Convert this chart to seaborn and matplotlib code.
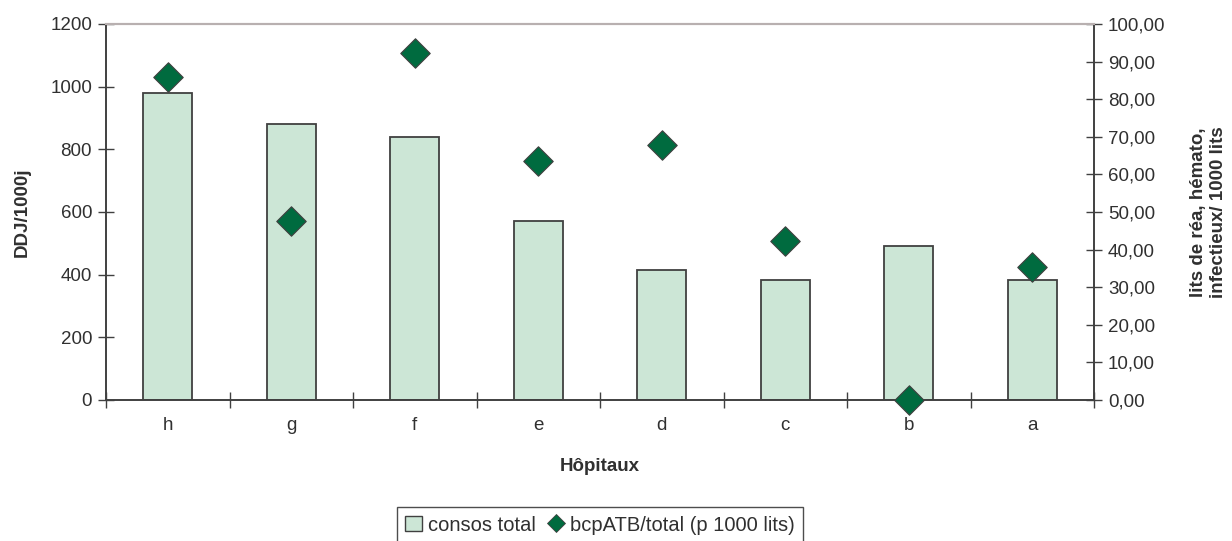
import matplotlib
matplotlib.use("Agg")
import matplotlib.pyplot as plt
from matplotlib.lines import Line2D
from matplotlib.patches import Patch
from matplotlib.ticker import FuncFormatter, MultipleLocator
import pandas as pd
import seaborn as sns

# Data
hopitaux = ["h", "g", "f", "e", "d", "c", "b", "a"]
consos_total = [979, 880, 839, 570, 414, 384, 491, 384]
bcp_atb = [85.9, 47.5, 92.3, 63.5, 67.7, 42.3, 0.0, 35.4]

BAR_FILL = "#cce6d6"
EDGE = "#404040"
MARKER = "#006b3f"
TEXT = "#303030"
FS = 13.5

sns.set_theme(style="white")
plt.rcParams["font.family"] = ["Liberation Sans", "DejaVu Sans"]
plt.rcParams["text.color"] = TEXT
plt.rcParams["axes.labelcolor"] = TEXT
plt.rcParams["xtick.color"] = TEXT
plt.rcParams["ytick.color"] = TEXT

df = pd.DataFrame({"hopital": hopitaux, "consos": consos_total, "bcp": bcp_atb})

fig = plt.figure(figsize=(12.32, 5.41), dpi=100)
ax = fig.add_axes([106 / 1232, 1 - 400 / 541, (1094 - 106) / 1232, (400 - 24) / 541])

sns.barplot(data=df, x="hopital", y="consos", order=hopitaux, color=BAR_FILL,
            saturation=1, width=0.4, edgecolor=EDGE, linewidth=1.3, ax=ax)

ax2 = ax.twinx()
sns.stripplot(data=df, x="hopital", y="bcp", order=hopitaux, jitter=False,
              marker="D", size=15, color=MARKER, edgecolor=EDGE, linewidth=0.8,
              ax=ax2, zorder=5, clip_on=False)

# axes limits / ticks
ax.set_xlim(-0.5, len(hopitaux) - 0.5)
ax.set_ylim(0, 1200)
ax.yaxis.set_major_locator(MultipleLocator(200))
ax2.set_ylim(0, 100)
ax2.yaxis.set_major_locator(MultipleLocator(10))
ax2.yaxis.set_major_formatter(FuncFormatter(lambda v, _: f"{v:.2f}".replace(".", ",")))

ax.set_xticks(range(len(hopitaux)))
ax.set_xticklabels(hopitaux)
ax.set_xticks([i + 0.5 for i in range(-1, len(hopitaux))], minor=True)
ax.tick_params(axis="x", which="major", length=0, pad=12, labelsize=FS)
ax.tick_params(axis="x", which="minor", bottom=True, direction="inout", length=12,
               width=1, color=EDGE)
ax.tick_params(axis="y", left=True, direction="inout", length=12, width=1,
               color=EDGE, labelsize=FS, pad=4)
ax2.tick_params(axis="y", right=True, direction="inout", length=12, width=1,
                color=EDGE, labelsize=FS, pad=4)

for a in (ax, ax2):
    for side in ("left", "right", "bottom"):
        a.spines[side].set_color(EDGE)
        a.spines[side].set_linewidth(1.2)
    a.spines["top"].set_color("#b8b0b0")
    a.spines["top"].set_linewidth(1.5)

ax.set_xlabel("Hôpitaux", fontsize=FS, fontweight="bold")
ax.xaxis.set_label_coords(0.5, -0.155)
ax.set_ylabel("DDJ/1000j", fontsize=FS, fontweight="bold", va="center")
ax.yaxis.set_label_coords(-0.085, 0.5)
ax2.set_ylabel("lits de réa, hémato,\ninfectieux/ 1000 lits", fontsize=FS,
               fontweight="bold", rotation=90, va="center", ha="center")
ax2.yaxis.set_label_coords(1.116, 0.5)

handles = [
    Patch(facecolor=BAR_FILL, edgecolor=EDGE, linewidth=1.0),
    Line2D([], [], marker="D", linestyle="none", markersize=9.5,
           markerfacecolor=MARKER, markeredgecolor=EDGE, markeredgewidth=0.6),
]
leg = fig.legend(handles, ["consos total", "bcpATB/total (p 1000 lits)"],
                 loc="upper center", bbox_to_anchor=(0.487, 0.062), ncol=2,
                 frameon=True, fancybox=False, fontsize=14.5, handlelength=0.8,
                 handleheight=0.8, handletextpad=0.3, columnspacing=0.6,
                 borderpad=0.4, borderaxespad=0)
leg.get_frame().set_edgecolor("#202020")
leg.get_frame().set_linewidth(1.0)

fig.savefig("out.png", dpi=100)
